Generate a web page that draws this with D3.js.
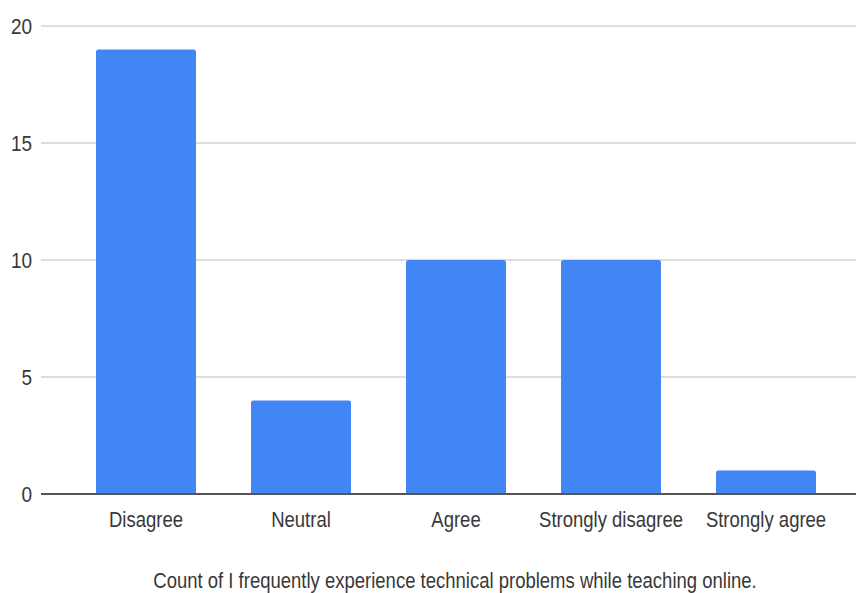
<!DOCTYPE html>
<html>
<head>
<meta charset="utf-8">
<script src="https://cdn.jsdelivr.net/npm/d3@7"></script>
<style>
  html, body { margin: 0; padding: 0; background: #fff; }
  svg { display: block; }
  text { font-family: "Liberation Sans", Arial, sans-serif; fill: #383838; }
</style>
</head>
<body>
<svg id="chart" width="856" height="593"></svg>
<script>
// Survey responses: "I frequently experience technical problems while teaching online."
const categories = ["Disagree", "Neutral", "Agree", "Strongly disagree", "Strongly agree"];
const counts = [19, 4, 10, 10, 1];
const yTicks = [0, 5, 10, 15, 20];
const xTitle = "Count of I frequently experience technical problems while teaching online.";

const W = 856, H = 593;
const svg = d3.select("#chart");

const gridLeft = 41, gridRight = 856;
const y = d3.scaleLinear().domain([0, 20]).range([494, 26]);
const x = d3.scaleBand().domain(categories).range([56, 856])
  .paddingInner(0.355).paddingOuter(0.258);

// Horizontal gridlines
svg.append("g").selectAll("line").data(yTicks.filter(d => d !== 0)).join("line")
  .attr("x1", gridLeft).attr("x2", gridRight)
  .attr("y1", d => y(d)).attr("y2", d => y(d))
  .attr("stroke", "#dedede").attr("stroke-width", 2);

// Bars with slightly rounded tops
const r = 2.5;
svg.append("g").selectAll("path").data(categories).join("path")
  .attr("fill", "#4285f4")
  .attr("d", (c, i) => {
    const x0 = x(c), w = x.bandwidth();
    const top = y(counts[i]), bot = y(0);
    return `M${x0},${bot}V${top + r}Q${x0},${top} ${x0 + r},${top}H${x0 + w - r}Q${x0 + w},${top} ${x0 + w},${top + r}V${bot}Z`;
  });

// Baseline
svg.append("line")
  .attr("x1", gridLeft).attr("x2", gridRight)
  .attr("y1", y(0)).attr("y2", y(0))
  .attr("stroke", "#555").attr("stroke-width", 2);

// Text is set slightly taller than wide
const sy = 1.17;

// Y axis tick labels
const yAxis = d3.axisLeft(y).tickValues(yTicks).tickSize(0).tickPadding(0);
const gy = svg.append("g").attr("transform", "translate(32,0)").call(yAxis);
gy.select(".domain").remove();
gy.selectAll(".tick text")
  .attr("x", 0).attr("dy", null)
  .attr("dominant-baseline", "central")
  .attr("font-size", 19)
  .attr("fill", "#383838")
  .attr("font-family", "Liberation Sans, Arial, sans-serif")
  .attr("transform", `scale(1,${sy})`)
  .attr("y", 0);
gy.selectAll(".tick").each(function(d) {
  d3.select(this).attr("transform", `translate(0,${y(d)})`);
});

// Category labels
const xAxis = d3.axisBottom(x).tickSize(0).tickPadding(0);
const gx = svg.append("g").call(xAxis);
gx.select(".domain").remove();
gx.selectAll(".tick").attr("transform", d => `translate(${x(d) + x.bandwidth() / 2},527)`);
gx.selectAll(".tick text")
  .attr("y", 0).attr("dy", null)
  .attr("font-size", 18.5)
  .attr("fill", "#383838")
  .attr("font-family", "Liberation Sans, Arial, sans-serif")
  .attr("transform", `scale(1,${sy})`);

// Axis title
svg.append("text")
  .attr("transform", `translate(455,588) scale(1,${sy})`)
  .attr("text-anchor", "middle")
  .attr("font-size", 18.5)
  .text(xTitle);
</script>
</body>
</html>
